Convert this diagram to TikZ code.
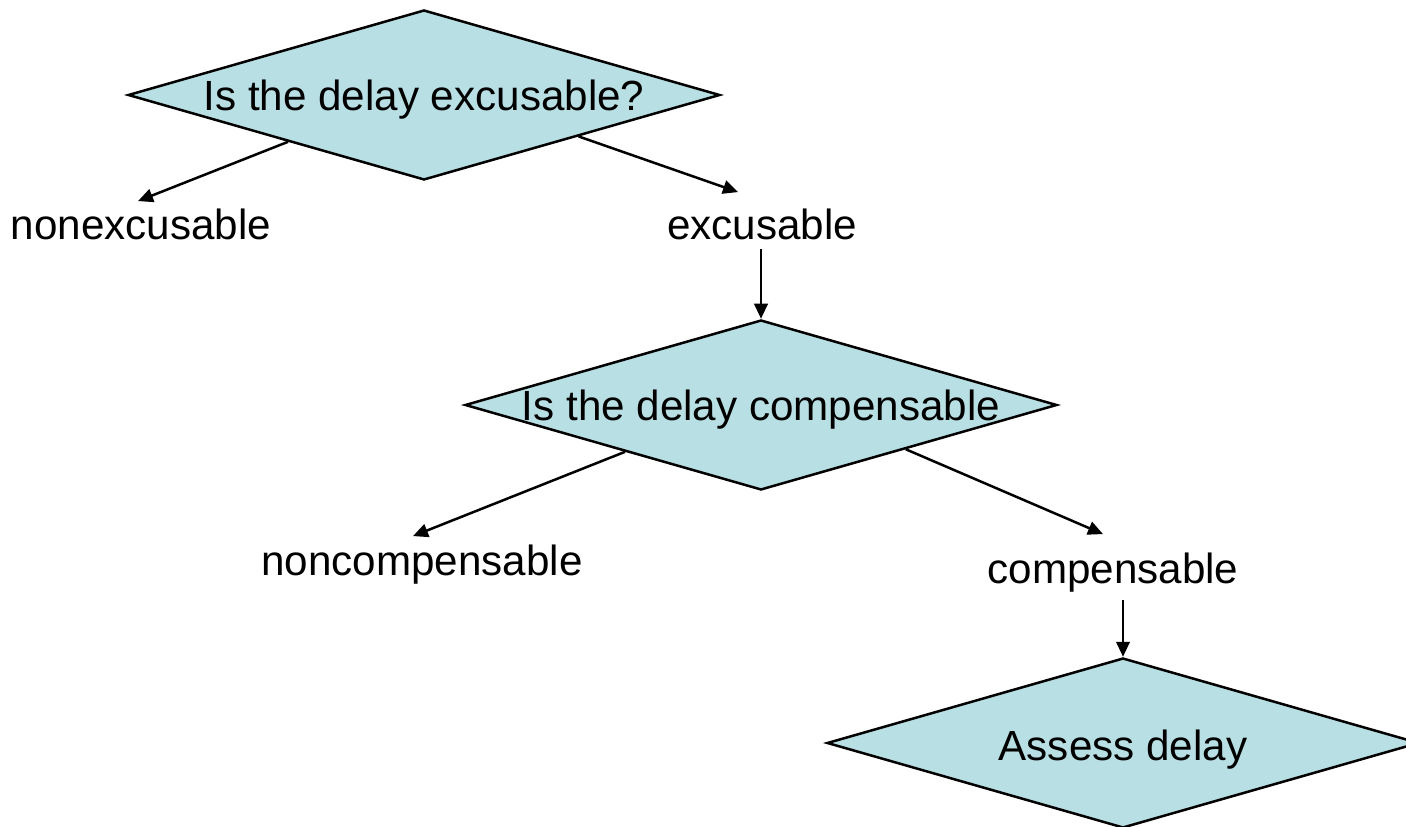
\documentclass[tikz,border=0pt]{standalone}
\usepackage{fontspec}
\setmainfont{Liberation Sans}
\usepackage{xcolor}
\usepackage{tikz}
\usetikzlibrary{arrows.meta,shapes.geometric}
\definecolor{ink}{HTML}{000000}
\definecolor{paleteal}{HTML}{B8DFE3}
\tikzset{
  >={Triangle[length=3mm,width=2.7mm]},
  every node/.style={font=\fontsize{24}{28}\selectfont,text=ink},
  decision/.style={diamond,draw=ink,fill=paleteal,line width=0.5mm,inner sep=0pt,minimum width=118.4mm,minimum height=34mm},
  qtext/.style={inner sep=0pt,yshift=-0.9mm},
  outcome/.style={inner sep=1.6mm,anchor=base},
  arrow/.style={->,line width=0.5mm,draw=ink}
}
\begin{document}
\begin{tikzpicture}[x=0.2mm,y=-0.2mm]
  \useasboundingbox[fill=white] (0,0) rectangle (1406,827);

  \node[decision,label={[qtext]center:Is the delay excusable?}] (q1) at (424,95) {};
  \node[outcome] (nonexc) at (141,240) {nonexcusable};
  \node[outcome] (exc) at (762,240) {excusable};
  \node[decision,label={[qtext]center:Is the delay compensable}] (q2) at (761,405) {};
  \node[outcome] (noncomp) at (422,575) {noncompensable};
  \node[outcome] (comp) at (1113,583) {compensable};
  \node[decision,label={[qtext,yshift=-0.4mm]center:Assess delay}] (q3) at (1123,743) {};

  \draw[arrow] (q1.-161) -- ([xshift=-0.6mm]nonexc.north);
  \draw[arrow] (q1.-15) -- ([xshift=-4.8mm,yshift=1.8mm]exc.north);
  \draw[arrow] (exc.south -| q2.north) -- (q2.north);
  \draw[arrow] (q2.-161) -- ([xshift=-1.8mm]noncomp.north);
  \draw[arrow] (q2.-17) -- ([xshift=-2mm,yshift=2mm]comp.north);
  \draw[arrow] (comp.south -| q3.north) -- (q3.north);
\end{tikzpicture}
\end{document}
